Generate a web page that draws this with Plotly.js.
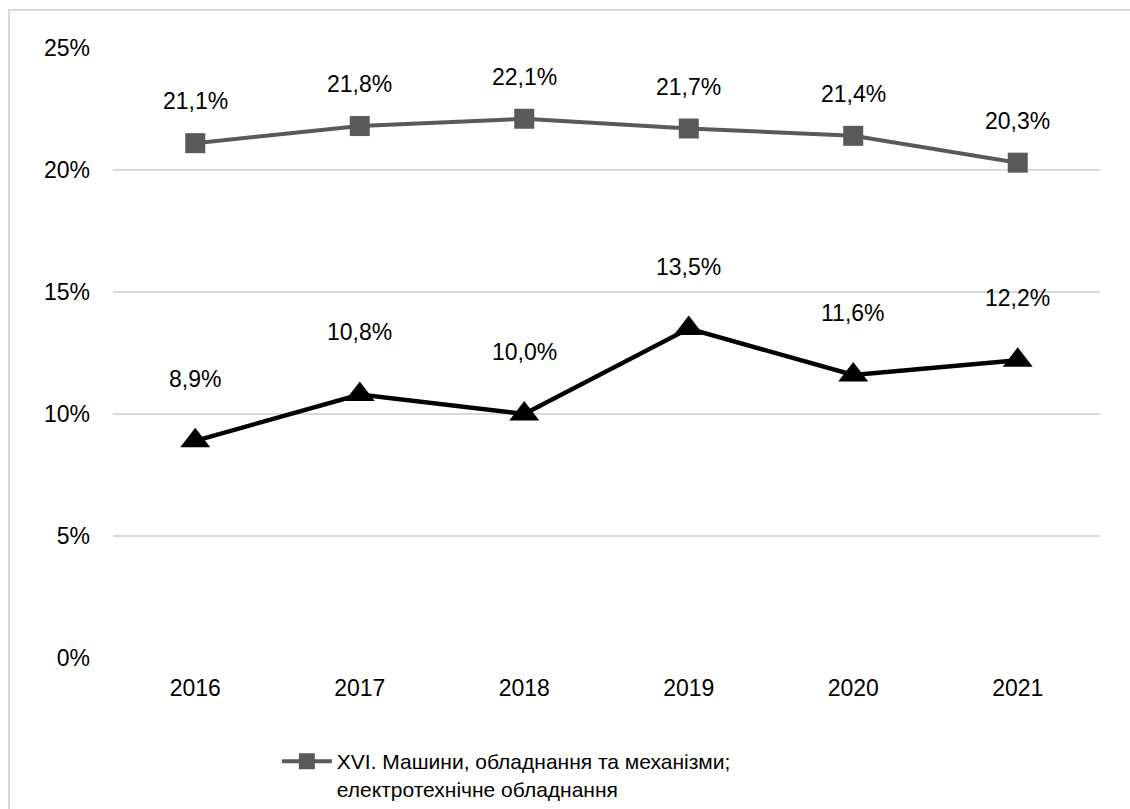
<!DOCTYPE html>
<html>
<head>
<meta charset="utf-8">
<script src="https://cdn.plot.ly/plotly-3.0.1.min.js"></script>
<style>
html,body{margin:0;padding:0;background:#fff;overflow:hidden;width:1130px;height:809px;}
#frame{position:absolute;left:8px;top:9px;width:1300px;height:1000px;border:2px solid #d9d9d9;pointer-events:none;}
#chart{position:absolute;left:0;top:0;width:1130px;height:809px;}
</style>
</head>
<body>
<div id="chart"></div>
<div id="frame"></div>
<script>
const years = ['2016','2017','2018','2019','2020','2021'];
const machinery = [21.1, 21.8, 22.1, 21.7, 21.4, 20.3];
const other = [8.9, 10.8, 10.0, 13.5, 11.6, 12.2];
const machineryName = 'XVI. Машини, обладнання та механізми;<br>електротехнічне обладнання';
const yTicks = [0, 5, 10, 15, 20, 25];

const fmt = v => v.toFixed(1).replace('.', ',') + '%';
const mkFont = (s) => ({family: 'Liberation Sans, Arial, sans-serif', size: s || 23, color: '#000'});

const traces = [
  {x: years, y: machinery, name: machineryName, type: 'scatter', mode: 'lines+markers',
   line: {color: '#595959', width: 4}, marker: {symbol: 'square', size: 20, color: '#595959'}},
  {x: years, y: other, name: 'other', type: 'scatter', mode: 'lines+markers', showlegend: false,
   line: {color: '#000000', width: 4.5}, marker: {symbol: 'triangle-up', size: 26, color: '#000000'}}
];

const annotations = [];
years.forEach((yr, i) => {
  annotations.push({xref: 'x', yref: 'y', x: i, y: machinery[i], text: fmt(machinery[i]), showarrow: false, yshift: 42, font: mkFont()});
  annotations.push({xref: 'x', yref: 'y', x: i, y: other[i], text: fmt(other[i]), showarrow: false, yshift: 62, font: mkFont()});
});

const layout = {
  width: 1130, height: 809,
  margin: {l: 113, r: 30, t: 48, b: 151},
  paper_bgcolor: '#fff', plot_bgcolor: '#fff',
  font: mkFont(),
  showlegend: true,
  legend: {orientation: 'h', xref: 'container', yref: 'container', x: 0.245, xanchor: 'left',
           y: 0.084, yanchor: 'top', valign: 'top', itemwidth: 50, font: mkFont(21), bgcolor: 'rgba(0,0,0,0)'},
  xaxis: {type: 'category', range: [-0.5, 5.5], showgrid: false, zeroline: false, showline: false,
          ticks: '', tickfont: mkFont(), ticklabelstandoff: 14},
  yaxis: {range: [0, 25], tickvals: yTicks, ticktext: yTicks.map(v => v + '%'), showgrid: true,
          gridcolor: '#d9d9d9', gridwidth: 2, zeroline: false, showline: false, ticks: '',
          tickfont: mkFont(), ticklabelstandoff: 22},
  annotations: annotations
};

Plotly.newPlot('chart', traces, layout, {displayModeBar: false, staticPlot: true});
</script>
</body>
</html>
